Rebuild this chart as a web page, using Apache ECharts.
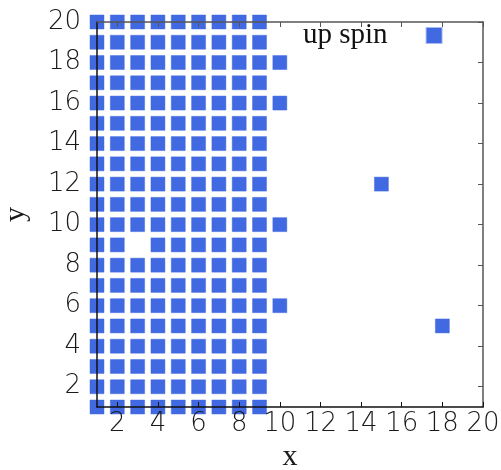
<!DOCTYPE html>
<html>
<head>
<meta charset="utf-8">
<script src="https://cdn.jsdelivr.net/npm/echarts@6/dist/echarts.min.js"></script>
<style>html,body{margin:0;padding:0;background:#fff}#c{width:501px;height:470px}</style>
</head>
<body>
<div id="c"></div>
<script>
const seriesName = 'up spin';
const fullRow = [1, 2, 3, 4, 5, 6, 7, 8, 9];
const row9 = [1, 2, 4, 5, 6, 7, 8, 9];
const rowY = [20, 19, 18, 17, 16, 15, 14, 13, 12, 11, 10, 9, 8, 7, 6, 5, 4, 3, 2, 1];
const extraX = [10, 10, 10, 10, 15, 18];
const extraY = [18, 16, 10, 6, 12, 5];
const tickValues = [2, 4, 6, 8, 10, 12, 14, 16, 18, 20];
const xTitle = 'x';
const yTitle = 'y';

const data = [];
rowY.forEach(y => {
  const xs = (y === 9) ? row9 : fullRow;
  xs.forEach(x => data.push([x, y]));
});
extraX.forEach((x, i) => data.push([x, extraY[i]]));

const labelFont = {fontFamily: 'DejaVu Sans', fontSize: 26, fontWeight: 300, color: '#1a1a1a'};
const titleFont = {fontFamily: 'Liberation Serif', fontSize: 30, color: '#1a1a1a'};
const chart = echarts.init(document.getElementById('c'));
const axisCommon = (pos, show, color) => ({
  type: 'value', min: 1, max: 20, position: pos, z: 5,
  splitLine: {show: false},
  axisLine: {show: true, onZero: false, lineStyle: {color: color, width: 1.5}},
  axisTick: {show: pos !== 'left', inside: true, length: 5, customValues: tickValues, lineStyle: {color: color}},
  axisLabel: Object.assign({show: show, customValues: tickValues}, labelFont)
});
const xb = axisCommon('bottom', true, '#111');
xb.axisLabel.margin = 4;
xb.name = xTitle; xb.nameLocation = 'middle'; xb.nameGap = 34;
xb.nameTextStyle = titleFont;
const yl = axisCommon('left', true, '#111');
yl.axisLabel.margin = 16;
yl.axisLabel.padding = [0, 0, 10, 0];
yl.name = yTitle; yl.nameLocation = 'middle'; yl.nameGap = 66;
yl.nameTextStyle = titleFont;
const xt = axisCommon('top', false, '#555');
const yr = axisCommon('right', false, '#555');

chart.setOption({
  animation: false,
  grid: {left: 97, right: 18, top: 22, bottom: 63, containLabel: false, outerBoundsMode: 'none'},
  legend: {
    data: [seriesName], left: 303, top: 21, align: 'right',
    icon: 'rect', itemWidth: 15, itemHeight: 15, padding: 0,
    textStyle: {fontFamily: 'Liberation Serif', fontSize: 29, color: '#111', padding: [0, 34, 10, 0]}
  },
  xAxis: [xb, xt],
  yAxis: [yl, yr],
  series: [{
    name: seriesName, type: 'scatter', symbol: 'rect', symbolSize: 14,
    xAxisIndex: 0, yAxisIndex: 0,
    itemStyle: {color: '#4169E1', opacity: 1, borderColor: 'rgba(65,105,225,0.45)', borderWidth: 1},
    data: data
  }]
});
</script>
</body>
</html>
